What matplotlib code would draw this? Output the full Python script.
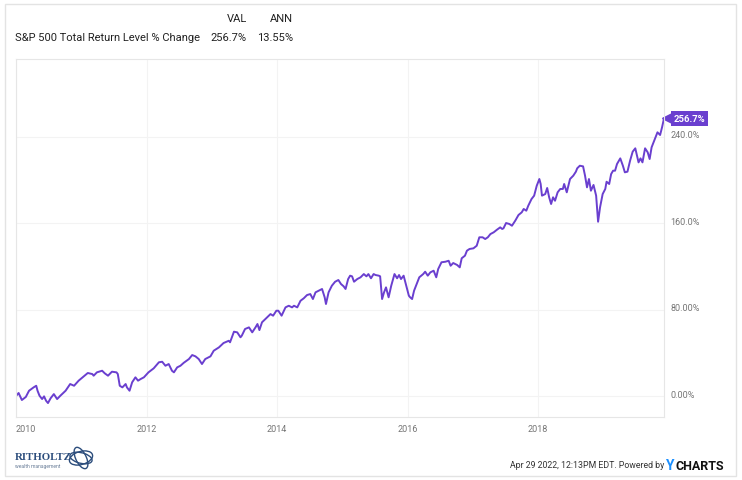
import matplotlib
matplotlib.use('Agg')
import matplotlib.pyplot as plt
import matplotlib.patches as patches
import matplotlib.transforms as transforms

plt.rcParams['font.family'] = ['Roboto', 'DejaVu Sans']

# S&P 500 total return, % change since end of 2009
years = [2010.00, 2010.04, 2010.09, 2010.15, 2010.20, 2010.27, 2010.31, 2010.33, 2010.36, 2010.40,
         2010.43, 2010.46, 2010.49, 2010.53, 2010.58, 2010.63, 2010.68, 2010.76, 2010.83, 2010.89,
         2010.96, 2011.04, 2011.10, 2011.17, 2011.19, 2011.24, 2011.32, 2011.36, 2011.41, 2011.47,
         2011.54, 2011.56, 2011.59, 2011.63, 2011.68, 2011.70, 2011.74, 2011.78, 2011.83, 2011.87,
         2011.91, 2011.96, 2012.03, 2012.11, 2012.19, 2012.24, 2012.29, 2012.34, 2012.39, 2012.42,
         2012.47, 2012.52, 2012.57, 2012.65, 2012.70, 2012.75, 2012.80, 2012.85, 2012.90, 2012.98,
         2013.03, 2013.11, 2013.18, 2013.26, 2013.28, 2013.34, 2013.39, 2013.44, 2013.46, 2013.51,
         2013.57, 2013.62, 2013.67, 2013.70, 2013.73, 2013.77, 2013.85, 2013.90, 2013.94, 2013.99,
         2014.02, 2014.07, 2014.13, 2014.18, 2014.23, 2014.26, 2014.31, 2014.36, 2014.41, 2014.46,
         2014.51, 2014.55, 2014.59, 2014.64, 2014.69, 2014.73, 2014.75, 2014.79, 2014.84, 2014.89,
         2014.94, 2014.98, 2015.02, 2015.05, 2015.09, 2015.12, 2015.15, 2015.18, 2015.23, 2015.28,
         2015.33, 2015.37, 2015.40, 2015.44, 2015.48, 2015.51, 2015.56, 2015.58, 2015.61, 2015.64,
         2015.67, 2015.71, 2015.75, 2015.80, 2015.84, 2015.87, 2015.90, 2015.94, 2015.98, 2016.02,
         2016.04, 2016.07, 2016.10, 2016.14, 2016.18, 2016.24, 2016.27, 2016.31, 2016.35, 2016.37,
         2016.40, 2016.44, 2016.47, 2016.52, 2016.58, 2016.63, 2016.66, 2016.70, 2016.76, 2016.80,
         2016.83, 2016.88, 2016.91, 2016.95, 2017.01, 2017.06, 2017.10, 2017.15, 2017.19, 2017.23,
         2017.27, 2017.32, 2017.37, 2017.42, 2017.45, 2017.47, 2017.51, 2017.56, 2017.60, 2017.65,
         2017.70, 2017.75, 2017.78, 2017.82, 2017.85, 2017.90, 2017.94, 2017.98, 2018.02, 2018.04,
         2018.06, 2018.11, 2018.14, 2018.17, 2018.20, 2018.23, 2018.26, 2018.30, 2018.34, 2018.38,
         2018.40, 2018.44, 2018.49, 2018.54, 2018.58, 2018.60, 2018.64, 2018.69, 2018.72, 2018.75,
         2018.78, 2018.81, 2018.85, 2018.89, 2018.92, 2018.95, 2018.99, 2019.03, 2019.05, 2019.09,
         2019.12, 2019.15, 2019.18, 2019.21, 2019.26, 2019.30, 2019.33, 2019.37, 2019.41, 2019.45,
         2019.49, 2019.54, 2019.57, 2019.60, 2019.64, 2019.68, 2019.71, 2019.74, 2019.79, 2019.83,
         2019.87, 2019.90, 2019.93]

pct_change = [0.0, 2.8, -3.7, -0.9, 4.9, 8.0, 9.5, 4.9, 0.3, -2.8,
              -0.3, -4.3, -6.5, -2.1, 1.8, -2.8, 0.3, 4.9, 11.1, 9.5,
              14.2, 18.2, 21.3, 20.3, 18.8, 21.9, 23.4, 21.0, 18.8, 22.5,
              21.9, 20.3, 9.5, 8.0, 11.1, 8.0, 4.9, 12.7, 17.3, 14.2,
              15.7, 17.3, 21.9, 25.6, 31.2, 31.7, 28.0, 29.6, 23.4, 21.9,
              26.5, 28.0, 30.7, 34.2, 37.9, 36.7, 34.2, 29.6, 34.2, 36.7,
              41.9, 45.0, 49.0, 51.1, 49.7, 59.5, 58.9, 54.3, 55.8, 62.0,
              63.5, 58.9, 63.5, 66.6, 61.0, 68.2, 72.8, 75.8, 74.3, 78.9,
              78.9, 74.3, 82.0, 83.5, 82.0, 83.5, 82.0, 88.1, 90.4, 93.4,
              94.3, 89.7, 95.9, 97.4, 99.0, 91.3, 85.1, 95.9, 102.0, 105.7,
              107.3, 103.6, 101.5, 99.0, 108.2, 111.3, 110.7, 105.7, 108.2, 109.8,
              112.8, 110.7, 112.8, 108.9, 112.8, 111.9, 111.3, 110.7, 89.7, 95.9,
              100.5, 91.3, 102.0, 112.8, 108.9, 111.9, 108.2, 111.3, 102.0, 92.8,
              91.3, 89.7, 97.4, 103.6, 109.8, 112.8, 115.0, 111.3, 114.4, 115.0,
              115.9, 109.8, 117.5, 123.7, 124.2, 125.1, 120.5, 123.0, 121.2, 119.0,
              127.4, 129.8, 134.4, 136.0, 136.6, 139.0, 146.8, 146.8, 145.2, 146.8,
              149.8, 151.4, 153.8, 156.0, 154.5, 155.1, 160.0, 159.1, 157.5, 162.1,
              167.4, 169.9, 173.0, 171.4, 176.0, 182.2, 185.3, 194.5, 200.7, 196.1,
              185.3, 186.8, 192.4, 183.8, 177.6, 183.8, 180.6, 188.4, 191.5, 191.5,
              196.1, 188.4, 200.7, 203.8, 207.5, 210.6, 213.0, 212.4, 203.8, 193.0,
              200.7, 189.9, 195.2, 185.3, 161.2, 174.5, 186.8, 191.5, 198.2, 196.1,
              205.3, 208.4, 208.4, 214.6, 219.8, 213.0, 206.9, 207.5, 217.6, 226.0,
              229.1, 216.1, 219.8, 216.1, 229.1, 225.4, 219.2, 230.0, 237.7, 243.9,
              241.4, 248.5, 256.7]

series_name = 'S&P 500 Total Return Level % Change'
val_label = '256.7%'
ann_label = '13.55%'
year_ticks = [2010, 2012, 2014, 2016, 2018]
pct_ticks = [0, 80, 160, 240]
pct_tick_labels = ['0.00%', '80.00%', '160.0%', '240.0%']

purple = '#6a3fcf'
grey_text = '#757575'
W, H = 742, 481


def fx(x):
    return x / W


def fy(y):
    return 1 - y / H


fig = plt.figure(figsize=(W / 100, H / 100), dpi=100)

# outer card border
fig.patches.append(patches.Rectangle((fx(5), fy(477)), fx(736) - fx(5), fy(5) - fy(477),
                                     transform=fig.transFigure, fill=False,
                                     edgecolor='#e3e3e3', linewidth=1))

ax = fig.add_axes([fx(16), fy(418), fx(664) - fx(16), fy(60) - fy(418)])
ax.plot(years, pct_change, color=purple, linewidth=1.4, solid_joinstyle='round')
ax.set_xlim(years[0], years[-1])
ax.set_ylim(-19.4, 311.7)

for s in ['top', 'bottom', 'left', 'right']:
    ax.spines[s].set_color('#e6e6e6')
    ax.spines[s].set_linewidth(0.8)

ax.set_xticks(year_ticks)
ax.set_xticklabels([str(y) for y in year_ticks])
ax.set_yticks(pct_ticks)
ax.set_yticklabels(pct_tick_labels)
ax.yaxis.tick_right()
ax.tick_params(axis='both', length=0, labelsize=6.5, labelcolor=grey_text)
ax.tick_params(axis='y', pad=4.5)
ax.tick_params(axis='x', pad=5)
ax.grid(True, color='#f3f3f3', linewidth=0.8)
ax.set_axisbelow(True)

# nudge y labels upward a bit, keep first year label inside the box
up = transforms.ScaledTranslation(0, 3 / 100, fig.dpi_scale_trans)
for lab in ax.get_yticklabels():
    lab.set_transform(lab.get_transform() + up)
    lab.set_horizontalalignment('left')
ax.get_xticklabels()[0].set_horizontalalignment('left')

# end-value badge
tri = transforms.offset_copy(ax.transData, fig=fig, x=3, y=0, units='dots')
ax.plot(years[-1], pct_change[-1], marker='<', markersize=6.5, color=purple,
        transform=tri, clip_on=False)
ax.annotate(val_label, xy=(years[-1], pct_change[-1]), xytext=(7, 0),
            textcoords='offset points', ha='left', va='center', fontsize=6.8,
            fontweight='bold', color='white', annotation_clip=False,
            bbox=dict(boxstyle='square,pad=0.3', facecolor=purple, edgecolor='none'))

# header
fig.text(fx(247), fy(19), 'VAL', ha='right', va='center', fontsize=8, color='#222222')
fig.text(fx(293), fy(19), 'ANN', ha='right', va='center', fontsize=8, color='#222222')
fig.text(fx(15), fy(38), series_name, ha='left', va='center', fontsize=8, color='#222222')
fig.text(fx(247), fy(38), val_label, ha='right', va='center', fontsize=8, color='#222222')
fig.text(fx(293), fy(38), ann_label, ha='right', va='center', fontsize=8, color='#222222')

# footer logo
navy = '#2c4d7c'
fig.text(fx(15), fy(458), 'RITHOLTZ', ha='left', va='center', fontsize=7.8,
         family=['Liberation Serif', 'DejaVu Serif'], fontweight='bold', color=navy)
fig.text(fx(15), fy(467), 'wealth management', ha='left', va='center', fontsize=3.6,
         color='#6b7f99')
for w, h, ang in [(26, 12, 40), (24, 10, -30), (11, 22, 15)]:
    fig.patches.append(patches.Ellipse((fx(81), fy(459)), fx(w), h / H, angle=ang,
                                       transform=fig.transFigure, fill=False,
                                       edgecolor=navy, linewidth=1.0))

# footer stamp
fig.text(fx(664), fy(466), 'Apr 29 2022, 12:13PM EDT. Powered by', ha='right', va='center',
         fontsize=6.3, color='#333333')
fig.text(fx(666), fy(466), 'Y', ha='left', va='center', fontsize=10, fontweight='bold',
         color='#1a8fff')
fig.text(fx(676), fy(466), 'CHARTS', ha='left', va='center', fontsize=9, fontweight='bold',
         color='#111111')

fig.savefig('out.png', dpi=100)
